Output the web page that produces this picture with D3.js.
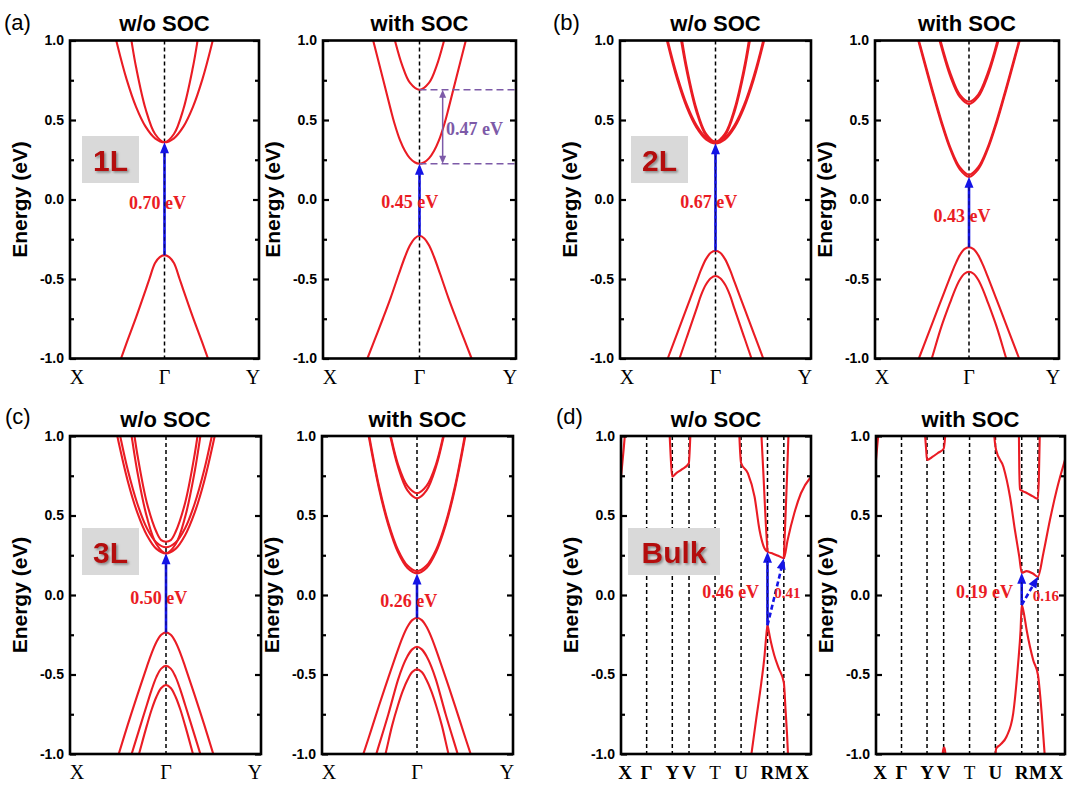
<!DOCTYPE html>
<html><head><meta charset="utf-8">
<script src="https://cdn.jsdelivr.net/npm/d3@7"></script>
<style>body{margin:0;background:#fff}svg{display:block}</style>
</head><body>
<svg id="c" width="1068" height="785"></svg>
<script>
// ---------------- DATA ----------------
const yTicks = [-1, -0.5, 0, 0.5, 1];
const yTickLabels = ["-1.0", "-0.5", "0.0", "0.5", "1.0"];
const yMinorTicks = [-0.75, -0.25, 0.25, 0.75];
const kTicksG = [-1, 0, 1];
const kLabelsG = ["X", "Γ", "Y"];
const kTicksD = [0, 0.135, 0.27, 0.358, 0.495, 0.632, 0.771, 0.857, 1];
const kLabelsD = ["X", "Γ", "Y", "V", "T", "U", "R", "M", "X"];
const titles = ["w/o SOC", "with SOC"];
const panelLetters = ["(a)", "(b)", "(c)", "(d)"];
const layerNames = ["1L", "2L", "3L", "Bulk"];

// 1L without SOC
const bandsA1 = [
  [[-0.55,1.104],[-0.5,0.975],[-0.4,0.754],[-0.3,0.581],[-0.2,0.458],[-0.1,0.385],[0,0.36],[0.1,0.385],[0.2,0.458],[0.3,0.581],[0.4,0.754],[0.5,0.975],[0.55,1.104]],
  [[-0.4,1.195],[-0.35,1.0],[-0.3,0.83],[-0.2,0.569],[-0.1,0.412],[0,0.36],[0.1,0.412],[0.2,0.569],[0.3,0.83],[0.35,1.0],[0.4,1.195]],
  [[-0.52,-1.1],[-0.46,-1.0],[-0.4,-0.9],[-0.3,-0.74],[-0.2,-0.57],[-0.16,-0.5],[-0.1,-0.4],[-0.05,-0.362],[0,-0.35],[0.05,-0.362],[0.1,-0.4],[0.16,-0.5],[0.2,-0.57],[0.3,-0.74],[0.4,-0.9],[0.46,-1.0],[0.52,-1.1]]
];
// 1L with SOC
const bandsA2 = [
  [[-0.54,1.14],[-0.48,1.0],[-0.375,0.75],[-0.3,0.57],[-0.26,0.48],[-0.2,0.37],[-0.15,0.305],[-0.1,0.26],[-0.05,0.234],[0,0.225],[0.05,0.234],[0.1,0.26],[0.15,0.305],[0.2,0.37],[0.26,0.48],[0.3,0.57],[0.375,0.75],[0.48,1.0],[0.54,1.14]],
  [[-0.3,1.11],[-0.255,1.0],[-0.18,0.845],[-0.1,0.735],[0,0.69],[0.1,0.735],[0.18,0.845],[0.255,1.0],[0.3,1.11]],
  [[-0.6,-1.09],[-0.54,-1.0],[-0.46,-0.875],[-0.38,-0.75],[-0.3,-0.62],[-0.215,-0.47],[-0.15,-0.36],[-0.1,-0.29],[-0.05,-0.245],[0,-0.228],[0.05,-0.245],[0.1,-0.29],[0.15,-0.36],[0.215,-0.47],[0.3,-0.62],[0.38,-0.75],[0.46,-0.875],[0.54,-1.0],[0.6,-1.09]]
];
// 2L without SOC
const bandsB1 = [
  [[-0.55,1.11],[-0.5,0.978],[-0.4,0.753],[-0.3,0.578],[-0.2,0.453],[-0.1,0.378],[0,0.353],[0.1,0.378],[0.2,0.453],[0.3,0.578],[0.4,0.753],[0.5,0.978],[0.55,1.11]],
  [[-0.54,1.11],[-0.5,1.0],[-0.4,0.775],[-0.3,0.596],[-0.2,0.468],[-0.1,0.39],[0,0.364],[0.1,0.39],[0.2,0.468],[0.3,0.596],[0.4,0.775],[0.5,1.0],[0.54,1.11]],
  [[-0.4,1.153],[-0.36,1.0],[-0.3,0.803],[-0.2,0.553],[-0.1,0.403],[0,0.353],[0.1,0.403],[0.2,0.553],[0.3,0.803],[0.36,1.0],[0.4,1.153]],
  [[-0.39,1.15],[-0.35,1.0],[-0.3,0.83],[-0.2,0.572],[-0.1,0.415],[0,0.364],[0.1,0.415],[0.2,0.572],[0.3,0.83],[0.35,1.0],[0.39,1.15]],
  [[-0.55,-1.08],[-0.5,-1.0],[-0.4,-0.84],[-0.3,-0.68],[-0.2,-0.52],[-0.15,-0.44],[-0.1,-0.375],[-0.05,-0.335],[0,-0.322],[0.05,-0.335],[0.1,-0.375],[0.15,-0.44],[0.2,-0.52],[0.3,-0.68],[0.4,-0.84],[0.5,-1.0],[0.55,-1.08]],
  [[-0.42,-1.08],[-0.377,-1.0],[-0.3,-0.865],[-0.2,-0.69],[-0.15,-0.6],[-0.1,-0.535],[-0.05,-0.495],[0,-0.481],[0.05,-0.495],[0.1,-0.535],[0.15,-0.6],[0.2,-0.69],[0.3,-0.865],[0.377,-1.0],[0.42,-1.08]]
];
// 2L with SOC
const bandsB2 = [
  [[-0.6,1.1],[-0.551,1.0],[-0.5,0.89],[-0.4,0.68],[-0.3,0.48],[-0.2,0.31],[-0.1,0.19],[0,0.143],[0.1,0.19],[0.2,0.31],[0.3,0.48],[0.4,0.68],[0.5,0.89],[0.551,1.0],[0.6,1.1]],
  [[-0.6,1.11],[-0.545,1.0],[-0.5,0.905],[-0.4,0.695],[-0.3,0.495],[-0.2,0.323],[-0.1,0.203],[0,0.156],[0.1,0.203],[0.2,0.323],[0.3,0.495],[0.4,0.695],[0.5,0.905],[0.545,1.0],[0.6,1.11]],
  [[-0.36,1.09],[-0.32,1.0],[-0.2,0.77],[-0.1,0.645],[0,0.6],[0.1,0.645],[0.2,0.77],[0.32,1.0],[0.36,1.09]],
  [[-0.35,1.1],[-0.31,1.0],[-0.2,0.79],[-0.1,0.66],[0,0.615],[0.1,0.66],[0.2,0.79],[0.31,1.0],[0.35,1.1]],
  [[-0.6,-1.08],[-0.545,-1.0],[-0.4,-0.78],[-0.3,-0.63],[-0.2,-0.48],[-0.15,-0.41],[-0.1,-0.35],[-0.05,-0.312],[0,-0.3],[0.05,-0.312],[0.1,-0.35],[0.15,-0.41],[0.2,-0.48],[0.3,-0.63],[0.4,-0.78],[0.545,-1.0],[0.6,-1.08]],
  [[-0.45,-1.08],[-0.405,-1.0],[-0.3,-0.8],[-0.2,-0.64],[-0.15,-0.565],[-0.1,-0.505],[-0.05,-0.467],[0,-0.454],[0.05,-0.467],[0.1,-0.505],[0.15,-0.565],[0.2,-0.64],[0.3,-0.8],[0.405,-1.0],[0.45,-1.08]]
];
// 3L without SOC
const bandsC1 = [
  [[-0.56,1.15],[-0.51,1.0],[-0.4,0.716],[-0.3,0.518],[-0.2,0.376],[-0.1,0.29],[0,0.262],[0.1,0.29],[0.2,0.376],[0.3,0.518],[0.4,0.716],[0.51,1.0],[0.56,1.15]],
  [[-0.53,1.15],[-0.48,1.0],[-0.4,0.786],[-0.3,0.574],[-0.2,0.42],[-0.1,0.33],[0,0.3],[0.1,0.33],[0.2,0.42],[0.3,0.574],[0.4,0.786],[0.48,1.0],[0.53,1.15]],
  [[-0.4,1.17],[-0.36,1.0],[-0.3,0.775],[-0.2,0.49],[-0.1,0.319],[0,0.262],[0.1,0.319],[0.2,0.49],[0.3,0.775],[0.36,1.0],[0.4,1.17]],
  [[-0.37,1.17],[-0.33,1.0],[-0.3,0.884],[-0.2,0.579],[-0.1,0.396],[-0.05,0.345],[0,0.335],[0.05,0.345],[0.1,0.396],[0.2,0.579],[0.3,0.884],[0.33,1.0],[0.37,1.17]],
  [[-0.55,-1.1],[-0.495,-1.0],[-0.4,-0.815],[-0.3,-0.63],[-0.2,-0.45],[-0.15,-0.365],[-0.1,-0.295],[-0.05,-0.25],[0,-0.235],[0.05,-0.25],[0.1,-0.295],[0.15,-0.365],[0.2,-0.45],[0.3,-0.63],[0.4,-0.815],[0.495,-1.0],[0.55,-1.1]],
  [[-0.4,-1.075],[-0.36,-1.0],[-0.28,-0.845],[-0.2,-0.69],[-0.15,-0.595],[-0.1,-0.515],[-0.05,-0.463],[0,-0.445],[0.05,-0.463],[0.1,-0.515],[0.15,-0.595],[0.2,-0.69],[0.28,-0.845],[0.36,-1.0],[0.4,-1.075]],
  [[-0.32,-1.08],[-0.283,-1.0],[-0.2,-0.82],[-0.15,-0.72],[-0.1,-0.64],[-0.05,-0.585],[0,-0.566],[0.05,-0.585],[0.1,-0.64],[0.15,-0.72],[0.2,-0.82],[0.283,-1.0],[0.32,-1.08]]
];
// 3L with SOC
const bandsC2 = [
  [[-0.56,1.19],[-0.506,1.0],[-0.4,0.675],[-0.3,0.439],[-0.2,0.27],[-0.1,0.17],[0,0.136],[0.1,0.17],[0.2,0.27],[0.3,0.439],[0.4,0.675],[0.506,1.0],[0.56,1.19]],
  [[-0.55,1.18],[-0.5,1.0],[-0.4,0.69],[-0.3,0.454],[-0.2,0.285],[-0.1,0.185],[0,0.15],[0.1,0.185],[0.2,0.285],[0.3,0.454],[0.4,0.69],[0.5,1.0],[0.55,1.18]],
  [[-0.32,1.12],[-0.28,1.0],[-0.2,0.808],[-0.1,0.658],[0,0.608],[0.1,0.658],[0.2,0.808],[0.28,1.0],[0.32,1.12]],
  [[-0.31,1.1],[-0.275,1.0],[-0.2,0.824],[-0.1,0.686],[0,0.64],[0.1,0.686],[0.2,0.824],[0.275,1.0],[0.31,1.1]],
  [[-0.6,-1.07],[-0.562,-1.0],[-0.48,-0.85],[-0.4,-0.7],[-0.3,-0.52],[-0.2,-0.345],[-0.15,-0.265],[-0.1,-0.2],[-0.05,-0.158],[0,-0.143],[0.05,-0.158],[0.1,-0.2],[0.15,-0.265],[0.2,-0.345],[0.3,-0.52],[0.4,-0.7],[0.48,-0.85],[0.562,-1.0],[0.6,-1.07]],
  [[-0.47,-1.09],[-0.426,-1.0],[-0.3,-0.75],[-0.2,-0.535],[-0.15,-0.45],[-0.1,-0.385],[-0.05,-0.342],[0,-0.325],[0.05,-0.342],[0.1,-0.385],[0.15,-0.45],[0.2,-0.535],[0.3,-0.75],[0.426,-1.0],[0.47,-1.09]],
  [[-0.37,-1.09],[-0.33,-1.0],[-0.26,-0.82],[-0.2,-0.695],[-0.15,-0.605],[-0.1,-0.535],[-0.05,-0.485],[0,-0.467],[0.05,-0.485],[0.1,-0.535],[0.15,-0.605],[0.2,-0.695],[0.26,-0.82],[0.33,-1.0],[0.37,-1.09]]
];
// Bulk without SOC (path coordinate 0..1 along X-Γ-Y-V-T-U-R-M-X)
const bandsD1 = [
  [[0,0.74],[0.008,0.84],[0.015,0.93],[0.022,1.03]],
  [[0.255,1.03],[0.262,0.86],[0.269,0.745],[0.29,0.765],[0.32,0.79],[0.357,0.828],[0.362,0.92],[0.366,1.03]],
  [[0.622,1.03],[0.627,0.9],[0.632,0.83],[0.668,0.765],[0.703,0.618],[0.729,0.409],[0.755,0.294],[0.771,0.272],[0.8,0.26],[0.83,0.245],[0.857,0.231],[0.877,0.346],[0.912,0.514],[0.947,0.64],[1.0,0.744]],
  [[0.738,1.03],[0.75,0.75],[0.762,0.45],[0.771,0.272]],
  [[0.857,0.231],[0.866,0.5],[0.874,0.75],[0.882,1.03]],
  [[0.683,-1.03],[0.711,-0.786],[0.738,-0.556],[0.755,-0.388],[0.765,-0.25],[0.771,-0.19],[0.778,-0.23],[0.79,-0.3],[0.807,-0.38],[0.83,-0.46],[0.857,-0.55],[0.866,-0.72],[0.874,-0.88],[0.88,-1.03]]
];
// Bulk with SOC
const bandsD2 = [
  [[0,0.85],[0.006,0.93],[0.014,1.03]],
  [[0.258,1.03],[0.265,0.92],[0.27,0.85],[0.3,0.87],[0.33,0.895],[0.358,0.92],[0.364,0.97],[0.368,1.03]],
  [[0.624,1.03],[0.63,0.95],[0.636,0.91],[0.674,0.807],[0.709,0.618],[0.735,0.409],[0.758,0.241],[0.771,0.14],[0.797,0.15],[0.83,0.135],[0.857,0.115],[0.885,0.26],[0.92,0.47],[0.956,0.66],[1.0,0.85]],
  [[0.756,1.03],[0.758,0.8],[0.762,0.665],[0.774,0.655],[0.8,0.64],[0.83,0.62],[0.857,0.605],[0.862,0.75],[0.867,1.03]],
  [[0.63,-1.03],[0.636,-0.965],[0.656,-0.943],[0.691,-0.89],[0.726,-0.744],[0.752,-0.43],[0.765,-0.22],[0.771,-0.063],[0.78,-0.1],[0.797,-0.22],[0.832,-0.41],[0.857,-0.503],[0.877,-0.75],[0.894,-1.03]],
  [[0.35,-1.03],[0.356,-0.97],[0.36,-0.96],[0.364,-0.97],[0.37,-1.03]]
];

// gap arrows: [from k, from E, to k, to E, dashed]
const arrowsA1 = [[0,-0.35,0,0.36,false]];
const arrowsA2 = [[0,-0.228,0,0.225,false]];
const arrowsB1 = [[0,-0.322,0,0.353,false]];
const arrowsB2 = [[0,-0.3,0,0.143,false]];
const arrowsC1 = [[0,-0.235,0,0.262,false]];
const arrowsC2 = [[0,-0.143,0,0.136,false]];
const arrowsD1 = [[0.771,-0.19,0.771,0.272,false],[0.771,-0.19,0.857,0.231,true]];
const arrowsD2 = [[0.771,-0.063,0.771,0.14,false],[0.771,-0.063,0.857,0.115,true]];
// gap labels: [text, k, E(baseline)]
const gapLabelsA1 = [["0.70 eV",-0.074,-0.06]];
const gapLabelsA2 = [["0.45 eV",-0.1,-0.055]];
const gapLabelsB1 = [["0.67 eV",-0.07,-0.055]];
const gapLabelsB2 = [["0.43 eV",-0.076,-0.14]];
const gapLabelsC1 = [["0.50 eV",-0.077,-0.057]];
const gapLabelsC2 = [["0.26 eV",-0.086,-0.073]];
const gapLabelsD1 = [["0.46 eV",0.577,-0.02],["0.41",0.876,-0.02]];
const gapLabelsD2 = [["0.19 eV",0.574,-0.02],["0.16",0.899,-0.04]];
// SOC splitting annotation in 1L
const socLevels = [0.69, 0.225];
const socSplitLabel = "0.47 eV";

// ---------------- DRAWING ----------------
const RED = "#ea1c24", BLUE = "#1414e6", PURPLE = "#7d5aa8";
const SANS = "'Liberation Sans', Arial, sans-serif";
const SERIF = "'Liberation Serif', 'Times New Roman', serif";
const svg = d3.select("#c");
const defs = svg.append("defs");
const flt = defs.append("filter").attr("id","sh").attr("x","-20%").attr("y","-20%").attr("width","150%").attr("height","150%");
flt.append("feDropShadow").attr("dx",1.6).attr("dy",1.6).attr("stdDeviation",1.1).attr("flood-color","#6a6a6a").attr("flood-opacity",0.75);

const panels = [
  {id:"a1", type:"g", box:[70,40.5,259,358.5], gamma:164.5, title:0, bands:bandsA1, arrows:arrowsA1, labels:gapLabelsA1, letter:0, tag:0, tagBox:[82,136,57,47]},
  {id:"a2", type:"g", box:[323,40.5,516,358.5], gamma:419.5, title:1, bands:bandsA2, arrows:arrowsA2, labels:gapLabelsA2, soc:true},
  {id:"b1", type:"g", box:[620,40.5,811,358.5], gamma:715.5, title:0, bands:bandsB1, arrows:arrowsB1, labels:gapLabelsB1, letter:1, tag:1, tagBox:[631,136,57,47]},
  {id:"b2", type:"g", box:[875,40.5,1059,358.5], gamma:969, title:1, bands:bandsB2, arrows:arrowsB2, labels:gapLabelsB2},
  {id:"c1", type:"g", box:[70,436,261,754], gamma:166, title:0, bands:bandsC1, arrows:arrowsC1, labels:gapLabelsC1, letter:2, tag:2, tagBox:[82,528,57,47]},
  {id:"c2", type:"g", box:[322,436,513,754], gamma:417, title:1, bands:bandsC2, arrows:arrowsC2, labels:gapLabelsC2},
  {id:"d1", type:"d", box:[621,436,811,754], title:0, bands:bandsD1, arrows:arrowsD1, labels:gapLabelsD1, letter:3, tag:3, tagBox:[628,528,92,47]},
  {id:"d2", type:"d", box:[876,436,1065,754], title:1, bands:bandsD2, arrows:arrowsD2, labels:gapLabelsD2}
];
const letterPos = [[4,30],[553,30],[5,424],[556,424]];

function drawHead(g, x1, y1, x2, y2, color, hl, hw) {
  const dx = x2-x1, dy = y2-y1, len = Math.hypot(dx,dy), ux = dx/len, uy = dy/len;
  const bx = x2-ux*hl, by = y2-uy*hl;
  g.append("path").attr("d",`M${x2},${y2}L${bx-uy*hw/2},${by+ux*hw/2}L${bx+uy*hw/2},${by-ux*hw/2}Z`).attr("fill",color);
  return [bx+ux*1.5, by+uy*1.5];
}

panels.forEach(p => {
  const [L,T,R,B] = p.box;
  const y = d3.scaleLinear().domain([-1,1]).range([B,T]);
  let x;
  if (p.type === "g") { const hw = (R-L)/2; x = d3.scaleLinear().domain([-1,1]).range([p.gamma-hw, p.gamma+hw]); }
  else x = d3.scaleLinear().domain([0,1]).range([L,R]);
  const g = svg.append("g");
  defs.append("clipPath").attr("id","clip"+p.id).append("rect").attr("x",L).attr("y",T).attr("width",R-L).attr("height",B-T);
  const inner = g.append("g").attr("clip-path",`url(#clip${p.id})`);

  // high-symmetry dashed lines
  const vlines = p.type === "g" ? [0] : kTicksD.slice(1,-1);
  inner.selectAll("line.hs").data(vlines).join("line").attr("class","hs")
    .attr("x1",d=>x(d)).attr("x2",d=>x(d)).attr("y1",T).attr("y2",B)
    .attr("stroke","#000").attr("stroke-width",1.5).attr("stroke-dasharray","4,3");

  // bands
  const curve = p.type === "g" ? d3.curveCatmullRom.alpha(0.5) : d3.curveMonotoneX;
  const line = d3.line().x(d=>x(d[0])).y(d=>y(d[1])).curve(curve);
  inner.selectAll("path.band").data(p.bands).join("path").attr("class","band")
    .attr("d",line).attr("fill","none").attr("stroke",RED).attr("stroke-width",2.1).attr("stroke-linejoin","round");

  // gap arrows (shaft, head, then the dashed k-line showing through the shaft)
  p.arrows.forEach(a => {
    const x1 = x(a[0]), y1 = y(a[1]), x2 = x(a[2]), y2 = y(a[3]);
    const shaft = g.append("line").attr("stroke",BLUE).attr("stroke-width",2.6).attr("stroke-dasharray",a[4] ? "5,3" : null);
    const [ex,ey] = drawHead(g, x1, y1, x2, y2, BLUE, 11, 9);
    shaft.attr("x1",x1).attr("y1",y1).attr("x2",ex).attr("y2",ey);
    if (!a[4]) {
      g.append("line").attr("x1",x1).attr("x2",x1).attr("y1",T).attr("y2",B)
        .attr("stroke","#000").attr("stroke-width",0.9).attr("stroke-dasharray","4,3").attr("opacity",0.55)
        .attr("clip-path",null)
        .attr("y1",y1).attr("y2",ey);
    }
  });
  // gap labels
  p.labels.forEach(l => {
    g.append("text").attr("x",x(l[1])).attr("y",y(l[2])).attr("text-anchor","middle")
      .attr("font-family",SERIF).attr("font-weight","bold").attr("font-size", l[0].length > 5 ? 18 : 15)
      .attr("fill",RED).text(l[0]);
  });

  // SOC splitting annotation
  if (p.soc) {
    socLevels.forEach(e => g.append("line").attr("x1",x(0)).attr("x2",R+2).attr("y1",y(e)).attr("y2",y(e))
      .attr("stroke",PURPLE).attr("stroke-width",1.5).attr("stroke-dasharray","7,4"));
    const ax = x(0.24), ya = y(socLevels[0]), yb = y(socLevels[1]);
    g.append("line").attr("x1",ax).attr("x2",ax).attr("y1",ya+6).attr("y2",yb-6).attr("stroke",PURPLE).attr("stroke-width",1.5);
    drawHead(g, ax, yb, ax, ya, PURPLE, 8, 7);
    drawHead(g, ax, ya, ax, yb, PURPLE, 8, 7);
    g.append("text").attr("x",x(0.57)).attr("y",y(0.406)).attr("text-anchor","middle")
      .attr("font-family",SERIF).attr("font-weight","bold").attr("font-size",18).attr("fill",PURPLE).text(socSplitLabel);
  }

  // axes (inward ticks on both sides)
  const axL = d3.axisLeft(y).tickValues(yTicks).tickFormat((d,i)=>yTickLabels[i]).tickSizeInner(-6).tickSizeOuter(0).tickPadding(6);
  const gl = g.append("g").attr("transform",`translate(${L},0)`).call(axL);
  gl.select(".domain").remove();
  gl.selectAll("line").attr("stroke","#000").attr("stroke-width",2.2);
  gl.selectAll("text").attr("font-family",SANS).attr("font-weight","bold").attr("font-size",14).attr("fill","#000");
  const gm = g.append("g").attr("transform",`translate(${L},0)`).call(d3.axisLeft(y).tickValues(yMinorTicks).tickFormat("").tickSizeInner(-4).tickSizeOuter(0));
  gm.select(".domain").remove(); gm.selectAll("line").attr("stroke","#000").attr("stroke-width",2.2);
  const gr = g.append("g").attr("transform",`translate(${R},0)`).call(d3.axisRight(y).tickValues(yTicks).tickFormat("").tickSizeInner(-6).tickSizeOuter(0));
  gr.select(".domain").remove(); gr.selectAll("line").attr("stroke","#000").attr("stroke-width",2.2);
  const grm = g.append("g").attr("transform",`translate(${R},0)`).call(d3.axisRight(y).tickValues(yMinorTicks).tickFormat("").tickSizeInner(-4).tickSizeOuter(0));
  grm.select(".domain").remove(); grm.selectAll("line").attr("stroke","#000").attr("stroke-width",2.2);

  // frame
  g.append("rect").attr("x",L).attr("y",T).attr("width",R-L).attr("height",B-T)
    .attr("fill","none").attr("stroke","#000").attr("stroke-width",2.6);

  // k-point labels
  const kt = p.type === "g" ? kTicksG : kTicksD;
  const kl = p.type === "g" ? kLabelsG : kLabelsD;
  kt.forEach((v,i) => {
    let px = x(v);
    if (i === 0) px = L + (p.type === "g" ? 7 : 4);
    if (i === kt.length-1) px = R - (p.type === "g" ? 6 : 9);
    g.append("text").attr("x",px).attr("y",B+25).attr("text-anchor","middle")
      .attr("font-family",SERIF).attr("font-size",p.type === "g" ? 20 : 19)
      .attr("font-weight", p.type === "d" && kl[i] !== "T" ? "bold" : "normal")
      .attr("fill","#000").text(kl[i]);
  });

  // title
  g.append("text").attr("x",(L+R)/2).attr("y",T-9.5).attr("text-anchor","middle")
    .attr("font-family",SANS).attr("font-weight","bold").attr("font-size",22).attr("fill","#000").text(titles[p.title]);
  // y-axis label
  g.append("text").attr("transform",`translate(${L-50},${(T+B)/2}) rotate(-90)`).attr("text-anchor","middle")
    .attr("dy","0.35em").attr("font-family",SANS).attr("font-weight","bold").attr("font-size",21).attr("fill","#000").text("Energy (eV)");

  // layer tag
  if (p.tag !== undefined) {
    const [bx,by,bw,bh] = p.tagBox;
    g.append("rect").attr("x",bx).attr("y",by).attr("width",bw).attr("height",bh).attr("fill","#d9d9d9");
    g.append("text").attr("x",bx+bw/2).attr("y",by+bh/2+11).attr("text-anchor","middle")
      .attr("font-family",SANS).attr("font-weight","bold").attr("font-size",30).attr("fill","#b40a0a")
      .attr("filter","url(#sh)").text(layerNames[p.tag]);
  }
  if (p.letter !== undefined) {
    svg.append("text").attr("x",letterPos[p.letter][0]).attr("y",letterPos[p.letter][1])
      .attr("font-family",SANS).attr("font-size",22).attr("fill","#000").text(panelLetters[p.letter]);
  }
});
</script>
</body></html>
